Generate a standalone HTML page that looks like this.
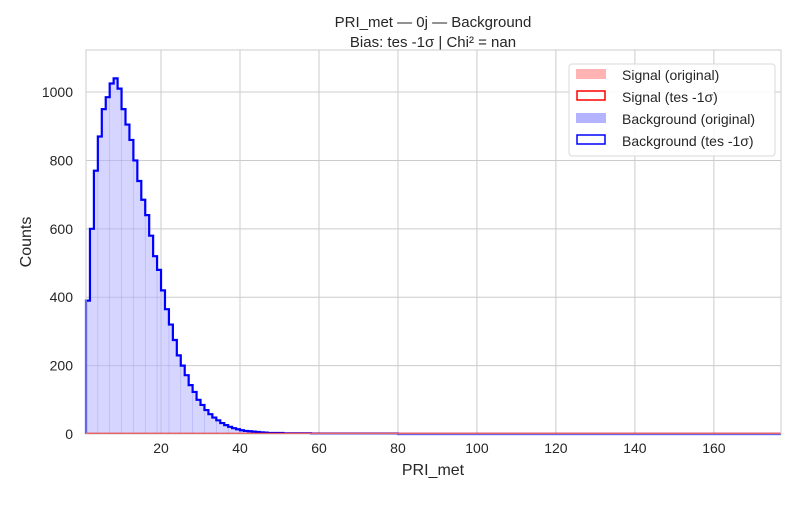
<!DOCTYPE html>
<html><head><meta charset="utf-8"><style>
body{margin:0;background:#fff;font-family:"Liberation Sans","DejaVu Sans",sans-serif;}
text{font-family:"Liberation Sans","DejaVu Sans",sans-serif;fill:#262626;}
</style></head><body>
<svg id="chart" width="800" height="500" viewBox="0 0 800 500" xmlns="http://www.w3.org/2000/svg">
<text x="433" y="27" font-size="15" text-anchor="middle">PRI_met — 0j — Background</text>
<text x="433" y="47" font-size="15" text-anchor="middle">Bias: tes -1σ | Chi² = nan</text>
<g id="grid"></g>
<g id="marks"></g>
<rect x="86" y="50" width="695" height="384" fill="none" stroke="#cccccc" stroke-width="1"/>
<g id="ticks"></g>
<text x="433" y="475" font-size="16" text-anchor="middle">PRI_met</text>
<text x="31" y="242" font-size="16" text-anchor="middle" transform="rotate(-90 31 242)">Counts</text>
<g>
<rect x="569" y="64" width="206" height="92" rx="3" fill="#fff" fill-opacity="0.85" stroke="#d9d9d9"/>
<g><rect x="576" y="69" width="30" height="10" fill="#ffb3b3"/><text x="622" y="80" font-size="14">Signal (original)</text></g>
<g><rect x="577" y="91" width="28" height="9" fill="none" stroke="red" stroke-width="1.5"/><text x="622" y="102" font-size="14">Signal (tes -1σ)</text></g>
<g><rect x="576" y="113" width="30" height="10" fill="#b3b3ff"/><text x="622" y="124" font-size="14">Background (original)</text></g>
<g><rect x="577" y="135" width="28" height="9" fill="none" stroke="blue" stroke-width="1.5"/><text x="622" y="146" font-size="14">Background (tes -1σ)</text></g>
</g>
</svg>
<script>
const binStart = 1;
const binWidth = 1;
const bgCounts = [390,600,770,870,950,985,1025,1040,1010,950,905,860,800,740,685,640,580,520,480,420,365,320,275,230,200,172,143,123,100,85,70,58,48,40,32,26,21,17,14,11,9,8,7,6,5,4,3,3,3,3,2,2,2,2,2,2,2,1,1,1,1,1,1,1,1,1,1,1,1,1,1,1,1,1,1,1,1,1,1];
const sigCounts = [0];
const xTicks = [20,40,60,80,100,120,140,160];
const yTicks = [0,200,400,600,800,1000];
const xMin=1, xMax=177, yMin=0, yMax=1123;
const L=86,R=781,T=50,B=434;
const sx=v=>L+(v-xMin)/(xMax-xMin)*(R-L);
const sy=v=>B-(v-yMin)/(yMax-yMin)*(B-T);
const NS="http://www.w3.org/2000/svg";
function mk(tag,attrs,parent){const e=document.createElementNS(NS,tag);for(const k in attrs)e.setAttribute(k,attrs[k]);parent.appendChild(e);return e;}
const grid=document.getElementById('grid'),ticks=document.getElementById('ticks'),marks=document.getElementById('marks');
xTicks.forEach(t=>{const l=mk('line',{x1:sx(t),x2:sx(t),y1:T,y2:B,stroke:'#cccccc'},grid);


const tx=mk('text',{x:sx(t),y:B+19,'font-size':14,'text-anchor':'middle'},ticks);tx.textContent=t;

});
yTicks.forEach(t=>{const l=mk('line',{x1:L,x2:R,y1:sy(t),y2:sy(t),stroke:'#cccccc'},grid);


const tx=mk('text',{x:L-13,y:sy(t)+5,'font-size':14,'text-anchor':'end'},ticks);tx.textContent=t;

});
let d='M'+sx(binStart)+','+sy(0);
bgCounts.forEach((c,i)=>{const x0=sx(binStart+i*binWidth),x1=sx(binStart+(i+1)*binWidth);d+=' L'+x0+','+sy(c)+' L'+x1+','+sy(c);});
const endX=sx(binStart+bgCounts.length*binWidth);
d+=' L'+endX+','+sy(0)+' L'+sx(xMax)+','+sy(0);
const fill=mk('path',{d:d+' Z',fill:'#b3b3ff','fill-opacity':0.55,stroke:'none'},marks);


bgCounts.forEach((c,i)=>{if(i%3===0){const l=mk('line',{x1:sx(binStart+i*binWidth),x2:sx(binStart+i*binWidth),y1:sy(c),y2:B,stroke:'#9a9aee','stroke-width':0.6,'stroke-opacity':0.6},marks);

}});
const line=mk('path',{d:d,fill:'none',stroke:'blue','stroke-width':2.2},marks);


const sig=mk('line',{x1:L,x2:R,y1:sy(sigCounts[0])-0.5,y2:sy(sigCounts[0])-0.5,stroke:'red','stroke-width':1.5},marks);


</script>
</body></html>
